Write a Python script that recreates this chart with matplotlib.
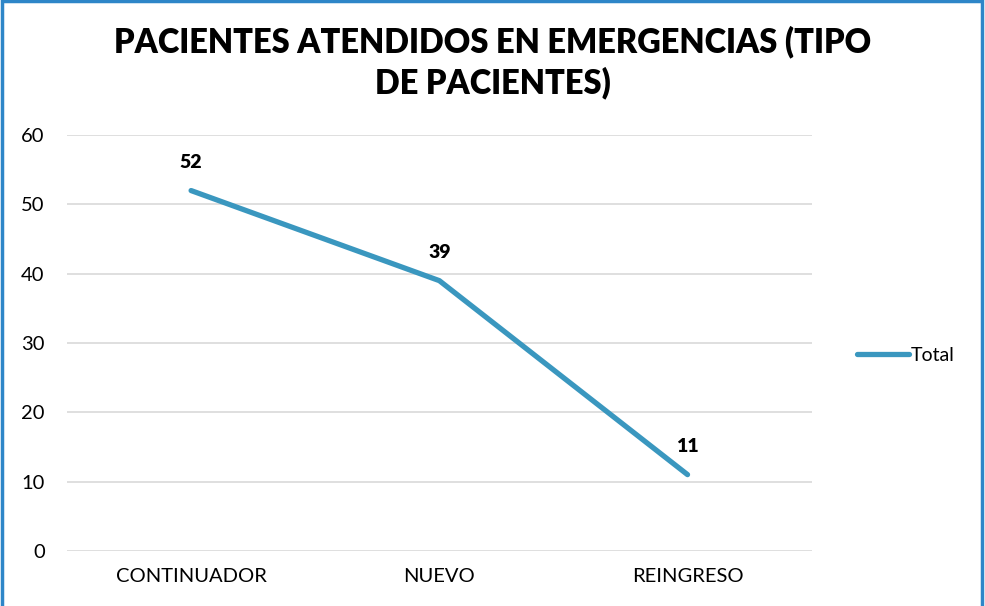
import matplotlib.pyplot as plt
from matplotlib.patches import Rectangle

categorias = ["CONTINUADOR", "NUEVO", "REINGRESO"]
totales = [52, 39, 11]
y_ticks = [0, 10, 20, 30, 40, 50, 60]

plt.rcParams['font.family'] = ['Lato', 'DejaVu Sans']

fig = plt.figure(figsize=(9.85, 6.06), dpi=100)
ax = fig.add_axes([0.068, 0.091, 0.756, 0.686])

x = list(range(len(categorias)))
line, = ax.plot(x, totales, color="#3A97BF", linewidth=3.8,
                solid_capstyle="round", solid_joinstyle="round", label="Total")

for xi, v in zip(x, totales):
    ax.annotate(str(v), (xi, v), xytext=(0, 14), textcoords="offset points",
                ha="center", va="bottom", fontsize=14, fontweight="heavy")

ax.set_xlim(-0.5, len(categorias) - 0.5)
ax.set_ylim(0, 60)
ax.set_yticks(y_ticks)
ax.set_xticks(x)
ax.set_xticklabels(categorias)
ax.tick_params(axis="both", length=0, labelsize=14.5, colors="black")
ax.tick_params(axis="x", pad=12)
ax.tick_params(axis="y", pad=16)
ax.grid(axis="y", color="#D9D9D9", linewidth=1.2)
ax.set_axisbelow(True)
for s in ax.spines.values():
    s.set_visible(False)

fig.text(0.5, 0.897, "PACIENTES ATENDIDOS EN EMERGENCIAS (TIPO\nDE PACIENTES)",
         ha="center", va="center", fontsize=23.5, fontweight="heavy",
         linespacing=1.28)

fig.legend(handles=[line], loc="center left", bbox_to_anchor=(0.852, 0.413),
           frameon=False, fontsize=14, handlelength=2.7, handletextpad=0.1)

fig.patches.append(Rectangle((0.002, -0.01), 0.995, 1.008, transform=fig.transFigure,
                             fill=False, edgecolor="#2E86C8", linewidth=2.5))

fig.savefig("out.png", dpi=100)
